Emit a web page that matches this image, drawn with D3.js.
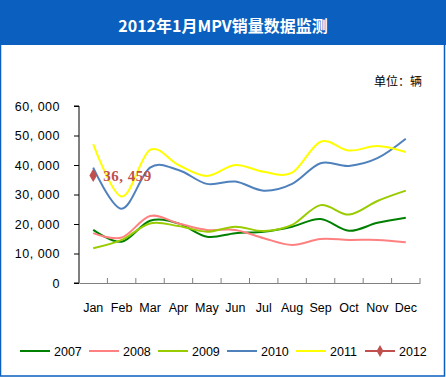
<!DOCTYPE html>
<html>
<head>
<meta charset="utf-8">
<script src="https://cdn.jsdelivr.net/npm/d3@7"></script>
<style>
  html, body { margin: 0; padding: 0; background: #fff; }
  svg { display: block; }
</style>
</head>
<body>
<div id="chart"></div>
<script>
// monthly MPV sales
var months = ['Jan', 'Feb', 'Mar', 'Apr', 'May', 'Jun', 'Jul', 'Aug', 'Sep', 'Oct', 'Nov', 'Dec'];
var s2007 = [18000, 14000, 21100, 20200, 15700, 16900, 17400, 19100, 21700, 17700, 20400, 22100];
var s2008 = [16900, 15400, 22700, 20200, 18000, 18000, 15200, 12900, 14900, 14600, 14600, 13800];
var s2009 = [11800, 14600, 20200, 19300, 17400, 19100, 17600, 19700, 26400, 23200, 27800, 31300];
var s2010 = [39100, 25200, 39100, 38300, 33600, 34400, 31300, 33600, 40600, 39700, 42300, 48900];
var s2011 = [47100, 29300, 45100, 40000, 36300, 40000, 37700, 37400, 47900, 44900, 46400, 44400];
var s2012 = [36459];
var yTicks = [0, 10000, 20000, 30000, 40000, 50000, 60000];

var series = [
  { name: '2007', values: s2007, color: '#008000' },
  { name: '2008', values: s2008, color: '#ff8080' },
  { name: '2009', values: s2009, color: '#99cc00' },
  { name: '2010', values: s2010, color: '#4f81bd' },
  { name: '2011', values: s2011, color: '#ffff00' },
  { name: '2012', values: s2012, color: '#c0504d', marker: true }
];

var W = 446, H = 377;
var blue = '#0a5fbf';
var svg = d3.select('#chart').append('svg').attr('width', W).attr('height', H);

// frame + title bar
svg.append('rect').attr('x', 0.5).attr('y', 0.5).attr('width', W - 2).attr('height', H - 1.5)
  .attr('fill', '#fff').attr('stroke', blue).attr('stroke-width', 1.5);
svg.append('rect').attr('x', 0).attr('y', 0).attr('width', W).attr('height', 45).attr('fill', blue);
svg.append('text').attr('x', 223).attr('y', 32).attr('text-anchor', 'middle')
  .attr('fill', '#fff').attr('font-size', 16).attr('font-weight', 'bold')
  .attr('font-family', '"Noto Sans CJK SC", sans-serif')
  .text('2012年1月MPV销量数据监测');
svg.append('text').attr('x', 422).attr('y', 86).attr('text-anchor', 'end')
  .attr('fill', '#000').attr('font-size', 12)
  .attr('font-family', '"Noto Sans CJK SC", sans-serif')
  .text('单位：辆');

var plotL = 79, plotR = 420, plotT = 106, plotB = 283;
var x = d3.scaleBand().domain(months).range([plotL, plotR]);
var y = d3.scaleLinear().domain([0, 60000]).range([plotB, plotT]);
var font = 'Liberation Sans, Arial, sans-serif';
var fmt = function (d) { return d3.format(',')(d).replace(',', ', '); };

// y axis
var ya = svg.append('g').attr('transform', 'translate(' + plotL + ',0)')
  .call(d3.axisLeft(y).tickValues(yTicks).tickSize(5).tickFormat(fmt));
ya.select('.domain').attr('stroke', '#000').attr('d', 'M-5,' + plotT + 'H0V' + plotB + 'H-5');
ya.selectAll('.tick line').attr('stroke', '#000');
ya.selectAll('.tick text').attr('x', -19).attr('font-size', 12.5).attr('letter-spacing', 0.5)
  .attr('font-family', font).attr('fill', '#000');

// x axis
var xa = svg.append('g').attr('transform', 'translate(0,' + plotB + ')')
  .call(d3.axisBottom(x).tickSize(0).tickPadding(20));
xa.select('.domain').attr('stroke', '#808080');
xa.selectAll('.tick text').attr('font-size', 12.5).attr('font-family', font).attr('fill', '#000');
svg.append('g').selectAll('line').data(months.concat(['end'])).enter().append('line')
  .attr('x1', function (d, i) { return plotL + i * x.step(); })
  .attr('x2', function (d, i) { return plotL + i * x.step(); })
  .attr('y1', plotB).attr('y2', plotB - 5).attr('stroke', '#808080');

var cx = function (d, i) { return x(months[i]) + x.bandwidth() / 2; };
var line = d3.line().x(cx).y(function (d) { return y(d); }).curve(d3.curveCatmullRom.alpha(0));

series.forEach(function (s) {
  if (s.values.length > 1) {
    svg.append('path').datum(s.values).attr('d', line)
      .attr('fill', 'none').attr('stroke', s.color).attr('stroke-width', 2);
  }
  if (s.marker) {
    var sym = d3.symbol().type(d3.symbolDiamond).size(50);
    svg.selectAll('.m' + s.name).data(s.values).enter().append('path')
      .attr('d', sym).attr('fill', s.color)
      .attr('transform', function (d, i) { return 'translate(' + cx(d, i) + ',' + y(d) + ')'; });
    svg.selectAll('.l' + s.name).data(s.values).enter().append('text')
      .attr('x', function (d, i) { return cx(d, i) + 10; })
      .attr('y', function (d) { return y(d) + 6; })
      .attr('fill', s.color).attr('font-size', 15).attr('font-weight', 'bold')
      .attr('letter-spacing', 0.5)
      .attr('font-family', 'Liberation Serif, serif')
      .text(fmt);
  }
});

// legend
var legendX = [20, 89, 158, 227, 296, 365];
var lg = svg.append('g').selectAll('g').data(series).enter().append('g')
  .attr('transform', function (d, i) { return 'translate(' + legendX[i] + ',351)'; });
lg.append('line').attr('x1', 0).attr('x2', 30).attr('y1', 0).attr('y2', 0)
  .attr('stroke', function (d) { return d.color; }).attr('stroke-width', 2);
lg.filter(function (d) { return d.marker; }).append('path')
  .attr('d', d3.symbol().type(d3.symbolDiamond).size(40)).attr('fill', function (d) { return d.color; })
  .attr('transform', 'translate(15,0)');
lg.append('text').attr('x', 34).attr('y', 5).attr('font-size', 12.5).attr('font-family', font)
  .attr('fill', '#000').text(function (d) { return d.name; });
</script>
</body>
</html>
